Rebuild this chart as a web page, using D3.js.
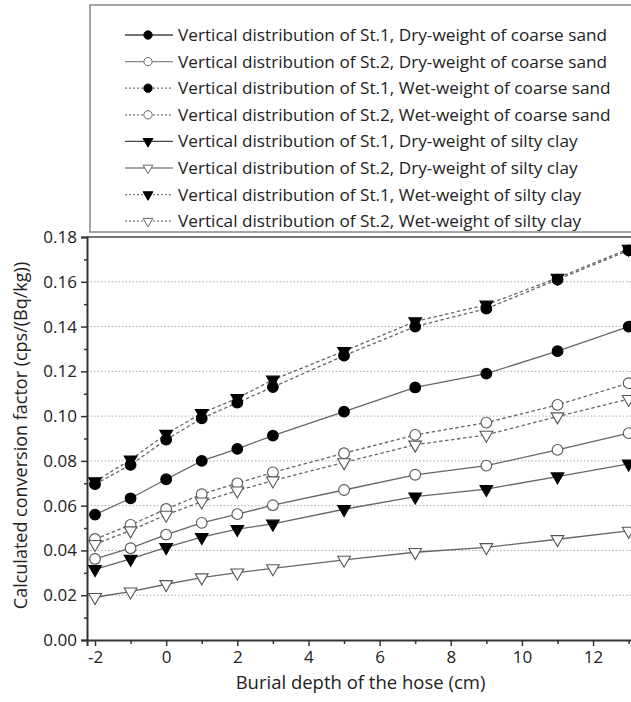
<!DOCTYPE html>
<html>
<head>
<meta charset="utf-8">
<script src="https://d3js.org/d3.v7.min.js"></script>
<style>
body { margin: 0; background: #fff; }
svg text { font-family: "Open Sans", Arial, sans-serif; fill: #222; }
</style>
</head>
<body>
<div id="chart"></div>
<script>
// burial depth (cm)
var depths = [-2, -1, 0, 1, 2, 3, 5, 7, 9, 11, 13];

// series values (cps/(Bq/kg))
var st1DryCoarse = [0.056, 0.0633, 0.0718, 0.080, 0.0854, 0.0913, 0.102, 0.1128, 0.119, 0.129, 0.140];
var st2DryCoarse = [0.0362, 0.041, 0.0471, 0.0523, 0.0562, 0.0602, 0.067, 0.0738, 0.0779, 0.0849, 0.0924];
var st1WetCoarse = [0.0696, 0.0782, 0.0895, 0.099, 0.106, 0.113, 0.127, 0.140, 0.148, 0.161, 0.174];
var st2WetCoarse = [0.0451, 0.0514, 0.0585, 0.0651, 0.070, 0.0749, 0.0834, 0.0916, 0.0971, 0.105, 0.1147];
var st1DryClay = [0.0316, 0.0362, 0.0414, 0.0459, 0.0495, 0.0519, 0.0584, 0.064, 0.0674, 0.073, 0.0787];
var st2DryClay = [0.0191, 0.0216, 0.0249, 0.0279, 0.0301, 0.032, 0.0358, 0.0392, 0.0414, 0.045, 0.0487];
var st1WetClay = [0.0708, 0.0805, 0.092, 0.1013, 0.108, 0.1162, 0.129, 0.1423, 0.1497, 0.1617, 0.1747];
var st2WetClay = [0.0428, 0.0489, 0.0559, 0.0618, 0.0667, 0.0712, 0.0793, 0.0872, 0.0916, 0.0998, 0.1076];

var seriesNames = [
  "Vertical distribution of St.1, Dry-weight of coarse sand",
  "Vertical distribution of St.2, Dry-weight of coarse sand",
  "Vertical distribution of St.1, Wet-weight of coarse sand",
  "Vertical distribution of St.2, Wet-weight of coarse sand",
  "Vertical distribution of St.1, Dry-weight of silty clay",
  "Vertical distribution of St.2, Dry-weight of silty clay",
  "Vertical distribution of St.1, Wet-weight of silty clay",
  "Vertical distribution of St.2, Wet-weight of silty clay"
];

var xTicks = [-2, 0, 2, 4, 6, 8, 10, 12];
var yTicks = [0, 0.02, 0.04, 0.06, 0.08, 0.10, 0.12, 0.14, 0.16, 0.18];

// marker style per series: shape, filled?, dashed?
var styles = [
  { shape: "circle", filled: true, dashed: false },
  { shape: "circle", filled: false, dashed: false },
  { shape: "circle", filled: true, dashed: true },
  { shape: "circle", filled: false, dashed: true },
  { shape: "tri", filled: true, dashed: false },
  { shape: "tri", filled: false, dashed: false },
  { shape: "tri", filled: true, dashed: true },
  { shape: "tri", filled: false, dashed: true }
];

var allValues = [st1DryCoarse, st2DryCoarse, st1WetCoarse, st2WetCoarse,
                 st1DryClay, st2DryClay, st1WetClay, st2WetClay];

var series = seriesNames.map(function(name, i) {
  return { name: name, style: styles[i],
    values: depths.map(function(d, j) { return { x: d, y: allValues[i][j] }; }) };
});

var W = 631, H = 702;
var margin = { top: 237, left: 87, right: -3, bottom: 62 };
var width = W - margin.left - margin.right;
var height = H - margin.top - margin.bottom;

var svg = d3.select("#chart").append("svg")
  .attr("width", W).attr("height", H);

var chart = svg.append("g").attr("transform", `translate(${margin.left},${margin.top})`);

var xScale = d3.scaleLinear().domain([-2.225, 13.15]).range([0, width]);
var yScale = d3.scaleLinear().domain([0, 0.18]).range([height, 0]);

// dotted gridlines
chart.append("g")
  .selectAll("line")
  .data(yTicks.filter(function(t) { return t > 0 && t < 0.18; }))
  .enter().append("line")
  .attr("x1", 0).attr("x2", width)
  .attr("y1", d => yScale(d)).attr("y2", d => yScale(d))
  .attr("stroke", "#aaa").attr("stroke-width", 1)
  .attr("stroke-dasharray", "1.5,2");

// frame top
chart.append("line")
  .attr("x1", 0).attr("x2", width).attr("y1", 0).attr("y2", 0)
  .attr("stroke", "#444").attr("stroke-width", 1.5);

// Y axis
chart.append("g")
  .call(d3.axisLeft(yScale).tickValues(yTicks).tickFormat(d3.format(".2f")).tickSize(6).tickPadding(4));
chart.append("g")
  .call(d3.axisLeft(yScale).tickValues(d3.range(0.01, 0.18, 0.02)).tickFormat("").tickSize(3))
  .select(".domain").remove();

// X axis (plain hyphen for negatives, like the original)
chart.append("g")
  .attr("transform", `translate(0,${height})`)
  .call(d3.axisBottom(xScale).tickValues(xTicks).tickFormat(d => String(d)).tickSize(6).tickPadding(5));
chart.append("g")
  .attr("transform", `translate(0,${height})`)
  .call(d3.axisBottom(xScale).tickValues([-1, 1, 3, 5, 7, 9, 11, 13]).tickFormat("").tickSize(4))
  .select(".domain").remove();

chart.selectAll(".domain").attr("stroke", "#333").attr("stroke-width", 2);
chart.selectAll(".tick line").attr("stroke", "#333").attr("stroke-width", 1.5);
chart.selectAll(".tick text").style("font-size", "17px").attr("fill", "#222");

// lines
var line = d3.line().x(d => xScale(d.x)).y(d => yScale(d.y));

chart.append("g").selectAll("path")
  .data(series).enter().append("path")
  .attr("d", d => line(d.values))
  .attr("fill", "none")
  .attr("stroke", "#666")
  .attr("stroke-width", 1.3)
  .attr("stroke-dasharray", d => d.style.dashed ? "3.5,2.5" : null);

function symbolPath(shape, scale) {
  if (shape === "circle") return d3.symbol().type(d3.symbolCircle).size(90 * scale)();
  return d3.symbol().type(d3.symbolTriangle).size(70 * scale)();
}

// markers
series.forEach(function(s) {
  chart.append("g").selectAll("path")
    .data(s.values).enter().append("path")
    .attr("d", symbolPath(s.style.shape, 1))
    .attr("transform", d => `translate(${xScale(d.x)},${yScale(d.y)})` + (s.style.shape === "tri" ? " rotate(180)" : ""))
    .attr("fill", s.style.filled ? "#000" : "#fff")
    .attr("stroke", s.style.filled ? "#000" : "#555")
    .attr("stroke-width", 1.1);
});

// legend
var legend = svg.append("g");
legend.append("rect")
  .attr("x", 90).attr("y", 5).attr("width", 560).attr("height", 227)
  .attr("fill", "#fff").attr("stroke", "#888").attr("stroke-width", 1.5);

var rows = legend.selectAll("g.row")
  .data(series).enter().append("g")
  .attr("transform", (d, i) => `translate(0,${35 + i * 26.6})`);

rows.append("line")
  .attr("x1", 125).attr("x2", 173).attr("y1", 0).attr("y2", 0)
  .attr("stroke", (d, i) => d.style.dashed ? "#777" : (i % 2 === 0 ? "#444" : "#888"))
  .attr("stroke-width", 1.3)
  .attr("stroke-dasharray", d => d.style.dashed ? "2,2" : null);

rows.append("path")
  .attr("d", d => symbolPath(d.style.shape, 0.6))
  .attr("transform", d => "translate(148,0)" + (d.style.shape === "tri" ? " rotate(180)" : ""))
  .attr("fill", d => d.style.filled ? "#000" : "#fff")
  .attr("stroke", d => d.style.filled ? "#000" : "#666")
  .attr("stroke-width", 1);

rows.append("text")
  .attr("x", 178).attr("y", 0).attr("dy", "0.35em")
  .style("font-size", "17.2px")
  .text(d => d.name);

// axis titles
svg.append("text")
  .attr("x", margin.left + width / 2).attr("y", 689)
  .attr("text-anchor", "middle")
  .style("font-size", "18.5px")
  .text("Burial depth of the hose (cm)");

svg.append("text")
  .attr("transform", `translate(27,${margin.top + height / 2 - 3}) rotate(-90)`)
  .attr("text-anchor", "middle")
  .style("font-size", "18px")
  .text("Calculated conversion factor (cps/(Bq/kg))");
</script>
</body>
</html>
